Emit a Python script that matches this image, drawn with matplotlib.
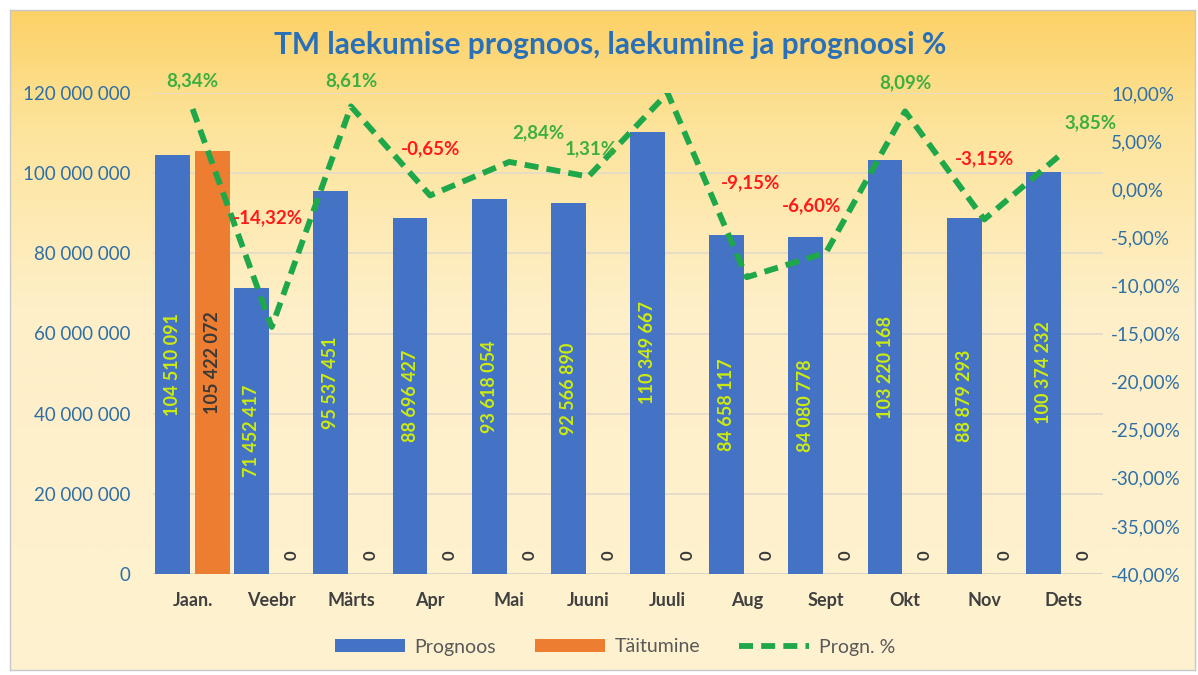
import numpy as np
import matplotlib
matplotlib.use("Agg")
import matplotlib.pyplot as plt
from matplotlib.colors import LinearSegmentedColormap
from matplotlib.ticker import FuncFormatter, MultipleLocator

# ---- data ----
months = ["Jaan.", "Veebr", "Märts", "Apr", "Mai", "Juuni", "Juuli", "Aug", "Sept", "Okt", "Nov", "Dets"]
prognoos = [104510091, 71452417, 95537451, 88696427, 93618054, 92566890,
            110349667, 84658117, 84080778, 103220168, 88879293, 100374232]
taitumine = [105422072, 0, 0, 0, 0, 0, 0, 0, 0, 0, 0, 0]
progn_pct = [8.34, -14.32, 8.61, -0.65, 2.84, 1.31, 10.0, -9.15, -6.60, 8.09, -3.15, 3.85]
pct_labels = ["8,34%", "-14,32%", "8,61%", "-0,65%", "2,84%", "1,31%", "",
              "-9,15%", "-6,60%", "8,09%", "-3,15%", "3,85%"]
# label offsets in pixels (dx, dy)
pct_offsets = [(0, 28), (-4, 109), (0, 26), (0, 47), (29, 29), (2, 28), (0, 28),
               (4, 94), (-14, 47), (0, 29), (0, 61), (27, 29)]

FONT = "Lato"
plt.rcParams["font.family"] = [FONT, "DejaVu Sans"]

W, H = 1198, 675
fig = plt.figure(figsize=(W / 100, H / 100), dpi=100)
fig.patch.set_facecolor("white")

# background gradient with frame
bg = fig.add_axes([10 / W, 5 / H, 1185 / W, 660 / H])
grad = np.linspace(0, 1, 256).reshape(-1, 1)
cmap = LinearSegmentedColormap.from_list(
    "g", [(0, "#FCD166"), (0.18, "#FDE49C"), (0.45, "#FEEFC8"), (1, "#FEF2D0")])
bg.imshow(grad, aspect="auto", cmap=cmap, extent=[0, 1, 0, 1], origin="upper")
bg.set_xlim(0, 1); bg.set_ylim(0, 1)
bg.set_xticks([]); bg.set_yticks([])
for s in bg.spines.values():
    s.set_color("#c8c8c8"); s.set_linewidth(1)
bg.set_zorder(0)

ax = fig.add_axes([153 / W, 101 / H, 950 / W, 481 / H])
ax.set_zorder(1)
ax.patch.set_alpha(0)
x = np.arange(len(months))
bw = 0.44
off = 0.253
blue = "#4472C4"
orange = "#ED7D31"
ax.bar(x - off, prognoos, bw, color=blue, zorder=2, label="Prognoos")
ax.bar(x + off, taitumine, bw, color=orange, zorder=2, label="Täitumine")
ax.set_xlim(-0.5, len(months) - 0.5)
ax.set_ylim(0, 120e6)
ax.yaxis.set_major_locator(MultipleLocator(20e6))
ax.yaxis.set_major_formatter(FuncFormatter(lambda v, p: f"{int(v):,}".replace(",", " ")))
ax.grid(axis="y", color="#E3DCC8", linewidth=1.3, zorder=0)
ax.set_axisbelow(True)
for s in ax.spines.values():
    s.set_visible(False)
ax.tick_params(axis="y", length=0, labelsize=13.5, labelcolor="#2E6FA8", pad=16)
ax.tick_params(axis="x", length=0, labelsize=13, labelcolor="#404040", pad=13)
ax.set_xticks(x)
ax.set_xticklabels(months, fontweight="bold")
ax.axhline(0, color="#D9D4C4", linewidth=1.3, zorder=1)

for i in range(len(months)):
    ax.text(x[i] - off, prognoos[i] / 2, f"{prognoos[i]:,}".replace(",", " "),
            rotation=90, ha="center", va="center", color="#CDEB0E",
            fontsize=13, fontweight="bold", zorder=4)
    if taitumine[i] > 0:
        ax.text(x[i] + off, taitumine[i] / 2, f"{taitumine[i]:,}".replace(",", " "),
                rotation=90, ha="center", va="center", color="#3A3A3A",
                fontsize=13, fontweight="bold", zorder=4)
    else:
        ax.annotate("0", (x[i] + off, 0), xytext=(0, 19), textcoords="offset pixels",
                    rotation=90, ha="center", va="center", color="#3A3A3A",
                    fontsize=12, fontweight="bold", zorder=4)

ax2 = ax.twinx()
ax2.set_zorder(2)
ax2.patch.set_alpha(0)
green = "#1FA84A"
ax2.plot(x, progn_pct, color=green, linestyle=(0, (2.4, 1.4)), linewidth=4.2,
         zorder=3, label="Progn. %")
ax2.set_ylim(-40, 10)
ax2.yaxis.set_major_locator(MultipleLocator(5))
ax2.yaxis.set_major_formatter(FuncFormatter(lambda v, p: f"{v:.2f}%".replace(".", ",")))
ax2.tick_params(axis="y", length=0, labelsize=13.5, labelcolor="#2E6FA8", pad=6)
for s in ax2.spines.values():
    s.set_visible(False)

for i in range(len(months)):
    if not pct_labels[i]:
        continue
    col = "#3DAF3F" if progn_pct[i] >= 0 else "#FF1A1A"
    ax2.annotate(pct_labels[i], (x[i], progn_pct[i]), xytext=pct_offsets[i],
                 textcoords="offset pixels", ha="center", va="center",
                 color=col, fontsize=13.5, fontweight="bold", zorder=5)

fig.text(610 / W, 1 - 45 / H, "TM laekumise prognoos, laekumine ja prognoosi %",
         ha="center", va="center", fontsize=21.5, fontweight="bold", color="#2A70B8")

h1, l1 = ax.get_legend_handles_labels()
h2, l2 = ax2.get_legend_handles_labels()
leg = fig.legend(h1 + h2, l1 + l2, loc="center", bbox_to_anchor=(615 / W, 1 - 647 / H),
                 ncol=3, frameon=False, fontsize=14, handlelength=3.6, handleheight=0.6,
                 columnspacing=2.0, handletextpad=0.5)
for t in leg.get_texts():
    t.set_color("#595959")

fig.savefig("out.png", dpi=100)
